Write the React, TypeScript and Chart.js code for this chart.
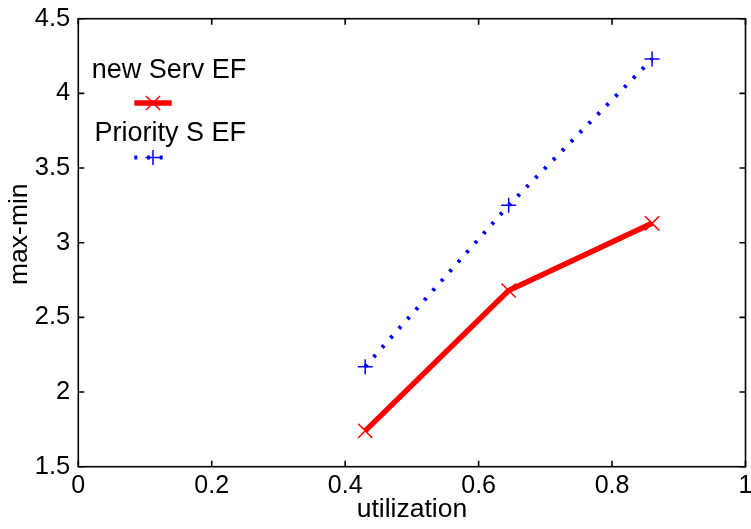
import React, { useEffect, useRef } from "react";
import { Chart, registerables } from "chart.js";

Chart.register(...registerables);

// Measured throughput variation against link utilization
const utilization = [0.43, 0.645, 0.86];
const newServEF = [1.74, 2.68, 3.13];
const prioritySEF = [2.17, 3.25, 4.23];

const seriesLabels = ["new Serv EF", "Priority S EF"];
const xTicks = [0, 0.2, 0.4, 0.6, 0.8, 1];
const yTicks = [1.5, 2, 2.5, 3, 3.5, 4, 4.5];
const xTitle = "utilization";
const yTitle = "max-min";

const FONT = '"Liberation Sans", Arial, Helvetica, sans-serif';

const formatTick = (v: number | string) => String(Number(Number(v).toFixed(2)));

// Boxed axes with inward tick marks on all four sides
const boxAxesPlugin = {
  id: "boxAxes",
  afterDraw(chart: any) {
    const { ctx, chartArea } = chart;
    const { left, right, top, bottom } = chartArea;
    const xs = chart.scales.x;
    const ys = chart.scales.y;
    const len = 6;
    ctx.save();
    ctx.strokeStyle = "#000";
    ctx.lineWidth = 1.6;
    ctx.strokeRect(left, top, right - left, bottom - top);
    ctx.beginPath();
    xTicks.forEach((v) => {
      const px = xs.getPixelForValue(v);
      ctx.moveTo(px, bottom);
      ctx.lineTo(px, bottom - len);
      ctx.moveTo(px, top);
      ctx.lineTo(px, top + len);
    });
    yTicks.forEach((v) => {
      const py = ys.getPixelForValue(v);
      ctx.moveTo(left, py);
      ctx.lineTo(left + len, py);
      ctx.moveTo(right, py);
      ctx.lineTo(right - len, py);
    });
    ctx.stroke();

    // vertical axis title, rotated, slightly above the plot's mid-height
    ctx.font = `26.5px ${FONT}`;
    ctx.fillStyle = "#000";
    ctx.textAlign = "center";
    ctx.textBaseline = "middle";
    ctx.translate(19.5, (top + bottom) / 2 - 8.5);
    ctx.rotate(-Math.PI / 2);
    ctx.fillText(yTitle, 0, 0);
    ctx.restore();
  },
};

// Legend with each label written above its line sample
const stackedLegendPlugin = {
  id: "stackedLegend",
  afterDraw(chart: any) {
    const { ctx } = chart;
    const entries = [
      { textX: 169, baseline: 78.3, sampleY: 103 },
      { textX: 170.3, baseline: 140.7, sampleY: 157.5 },
    ];
    const x0 = 134.3;
    const x1 = 171.7;
    ctx.save();
    chart.data.datasets.forEach((ds: any, i: number) => {
      const e = entries[i];
      ctx.font = `27px ${FONT}`;
      ctx.fillStyle = "#000";
      ctx.textAlign = "center";
      ctx.textBaseline = "alphabetic";
      ctx.fillText(ds.label, e.textX, e.baseline);

      ctx.strokeStyle = ds.borderColor;
      ctx.lineWidth = ds.borderWidth;
      ctx.lineCap = "butt";
      ctx.setLineDash(ds.borderDash || []);
      ctx.beginPath();
      ctx.moveTo(x0, e.sampleY);
      ctx.lineTo(x1, e.sampleY);
      ctx.stroke();
      ctx.setLineDash([]);

      const cx = (x0 + x1) / 2;
      ctx.lineWidth = ds.pointBorderWidth;
      ctx.beginPath();
      if (ds.pointStyle === "crossRot") {
        const r = ds.pointRadius * Math.SQRT1_2;
        ctx.moveTo(cx - r, e.sampleY - r);
        ctx.lineTo(cx + r, e.sampleY + r);
        ctx.moveTo(cx - r, e.sampleY + r);
        ctx.lineTo(cx + r, e.sampleY - r);
      } else {
        const r = ds.pointRadius;
        ctx.moveTo(cx - r, e.sampleY);
        ctx.lineTo(cx + r, e.sampleY);
        ctx.moveTo(cx, e.sampleY - r);
        ctx.lineTo(cx, e.sampleY + r);
      }
      ctx.stroke();
    });
    ctx.restore();
  },
};

export default function App() {
  const canvasRef = useRef<HTMLCanvasElement | null>(null);

  useEffect(() => {
    const canvas = canvasRef.current;
    if (!canvas) return;
    Chart.defaults.font.family = FONT;
    Chart.defaults.color = "#000";

    const chart = new Chart(canvas, {
      type: "line",
      data: {
        datasets: [
          {
            label: seriesLabels[0],
            data: utilization.map((u, i) => ({ x: u, y: newServEF[i] })),
            borderColor: "#ff0000",
            backgroundColor: "#ff0000",
            borderWidth: 5.5,
            pointStyle: "crossRot",
            pointRadius: 10,
            pointBorderWidth: 1.5,
            pointBorderColor: "#ff0000",
            pointHoverRadius: 10,
            tension: 0,
            fill: false,
          },
          {
            label: seriesLabels[1],
            data: utilization.map((u, i) => ({ x: u, y: prioritySEF[i] })),
            borderColor: "#0000ff",
            backgroundColor: "#0000ff",
            borderWidth: 4,
            borderDash: [3, 9.7],
            borderCapStyle: "butt",
            pointStyle: "cross",
            pointRadius: 7.5,
            pointBorderWidth: 1.5,
            pointBorderColor: "#0000ff",
            pointHoverRadius: 7.5,
            tension: 0,
            fill: false,
          },
        ],
      },
      options: {
        responsive: false,
        animation: false,
        devicePixelRatio: 1,
        layout: { autoPadding: false, padding: { top: 18.7, right: 5.5, left: 0, bottom: 0 } },
        plugins: {
          legend: { display: false },
          tooltip: { enabled: false },
        },
        scales: {
          x: {
            type: "linear",
            min: 0,
            max: 1,
            grid: { display: false, drawTicks: false },
            border: { display: false },
            ticks: {
              stepSize: 0.2,
              padding: 4,
              font: { size: 25 },
              color: "#000",
              maxRotation: 0,
              callback: (v: any) => formatTick(v),
            },
            title: {
              display: true,
              text: xTitle,
              font: { size: 26.5 },
              color: "#000",
              padding: { top: 0, bottom: 3.5 },
            },
            afterFit(scale: any) {
              scale.height = 62.3;
              scale.paddingLeft = 0;
              scale.paddingRight = 0;
            },
          },
          y: {
            type: "linear",
            min: 1.5,
            max: 4.5,
            grid: { display: false, drawTicks: false },
            border: { display: false },
            ticks: {
              stepSize: 0.5,
              padding: 8,
              font: { size: 25.5 },
              color: "#000",
              callback: (v: any) => formatTick(v),
            },
            afterFit(scale: any) {
              scale.width = 78.3;
              scale.paddingTop = 0;
              scale.paddingBottom = 0;
            },
          },
        },
      },
      plugins: [boxAxesPlugin, stackedLegendPlugin],
    });

    return () => chart.destroy();
  }, []);

  return (
    <div style={{ position: "absolute", left: 0, top: 0, width: 751, height: 529, background: "#fff" }}>
      <canvas ref={canvasRef} width={751} height={529} style={{ width: 751, height: 529, display: "block" }} />
    </div>
  );
}
